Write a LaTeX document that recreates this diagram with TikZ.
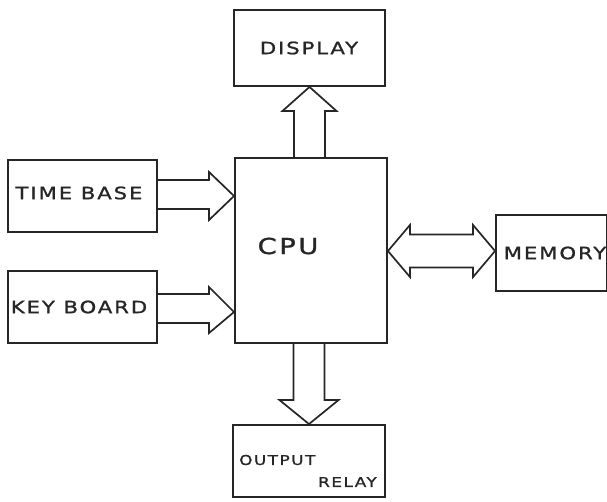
\documentclass[tikz,border=0pt]{standalone}
\usepackage{fontspec}
\setmainfont{DejaVu Sans}
\newfontfamily\handfont[FakeStretch=1.25,LetterSpace=11,FakeBold=1.2]{DejaVu Sans}
\usetikzlibrary{calc}
\tikzset{
  blockbox/.style={draw=black!85, line width=1.9pt, rectangle, inner sep=0pt},
  lbl/.style={font=\handfont\fontsize{17}{17}\selectfont, text=black!85, inner sep=0pt},
  blk/.style={draw=black!85, line width=1.7pt, line join=miter},
}
\begin{document}
\begin{tikzpicture}[x=1pt,y=-1pt]
\useasboundingbox (0,0) rectangle (607,501);
% boxes
\node[blockbox, minimum width=151pt, minimum height=76pt] (disp) at (309.5,48) {};
\node[lbl] (disptxt) at (309,48) {DISPLAY};
\node[blockbox, minimum width=152pt, minimum height=185pt] (cpu) at (311,250.5) {};
\node[lbl, font=\handfont\fontsize{22}{22}\selectfont] (cputxt) at (288,246) {CPU};
\node[blockbox, minimum width=149pt, minimum height=72pt] (tb) at (82.5,196) {};
\node[lbl] (tbtxt) at (79,193) {TIME BASE};
\node[blockbox, minimum width=149pt, minimum height=72pt] (kb) at (82.5,307) {};
\node[lbl] (kbtxt) at (79,307) {KEY BOARD};
\node[blockbox, minimum width=111pt, minimum height=76pt] (mem) at (551.5,253) {};
\node[lbl] (memtxt) at (555,253) {MEMORY};
\node[blockbox, minimum width=152pt, minimum height=72pt] (out) at (309,461) {};
\node[lbl, font=\handfont\fontsize{13.5}{13.5}\selectfont, anchor=west] (outtxt1) at (239,460) {OUTPUT};
\node[lbl, font=\handfont\fontsize{13.5}{13.5}\selectfont, anchor=east] (outtxt2) at (377,482) {RELAY};
% CPU -> DISPLAY (up)
\draw[blk] let \p1=(disp.south), \p2=(cpu.north) in
  (\x1-15.5pt,\y2) -- (\x1-15.5pt,\y1-24pt) -- (\x1-27pt,\y1-24pt) -- (\x1,\y1)
  -- (\x1+27pt,\y1-24pt) -- (\x1+15.5pt,\y1-24pt) -- (\x1+15.5pt,\y2);
% CPU -> OUTPUT RELAY (down)
\draw[blk] let \p1=(out.north), \p2=(cpu.south) in
  (\x1-15.5pt,\y2) -- (\x1-15.5pt,\y1+24pt) -- (\x1-29.5pt,\y1+24pt) -- (\x1,\y1)
  -- (\x1+29.5pt,\y1+24pt) -- (\x1+15.5pt,\y1+24pt) -- (\x1+15.5pt,\y2);
% TIME BASE -> CPU
\draw[blk] let \p1=(tb.east), \p2=(cpu.west) in
  (\x1,\y1+16pt) -- (\x2-25pt,\y1+16pt) -- (\x2-25pt,\y1+24pt) -- (\x2,\y1)
  -- (\x2-25pt,\y1-24pt) -- (\x2-25pt,\y1-13pt) -- (\x1,\y1-13pt);
% KEY BOARD -> CPU
\draw[blk] let \p1=(kb.east), \p2=(cpu.west) in
  (\x1,\y1+13pt) -- (\x2-25pt,\y1+13pt) -- (\x2-25pt,\y1+20pt) -- (\x2,\y1-5pt)
  -- (\x2-25pt,\y1-26pt) -- (\x2-25pt,\y1-16pt) -- (\x1,\y1-16pt);
% CPU <-> MEMORY
\draw[blk] let \p1=(cpu.east), \p2=(mem.west) in
  (\x1,\y2+2pt) -- (\x1+22pt,\y2+28pt) -- (\x1+22pt,\y2+18.5pt) -- (\x2-22pt,\y2+18.5pt)
  -- (\x2-22pt,\y2+28pt) -- (\x2,\y2+2pt) -- (\x2-22pt,\y2-24pt) -- (\x2-22pt,\y2-14.5pt)
  -- (\x1+22pt,\y2-14.5pt) -- (\x1+22pt,\y2-24pt) -- cycle;
\end{tikzpicture}
\end{document}
